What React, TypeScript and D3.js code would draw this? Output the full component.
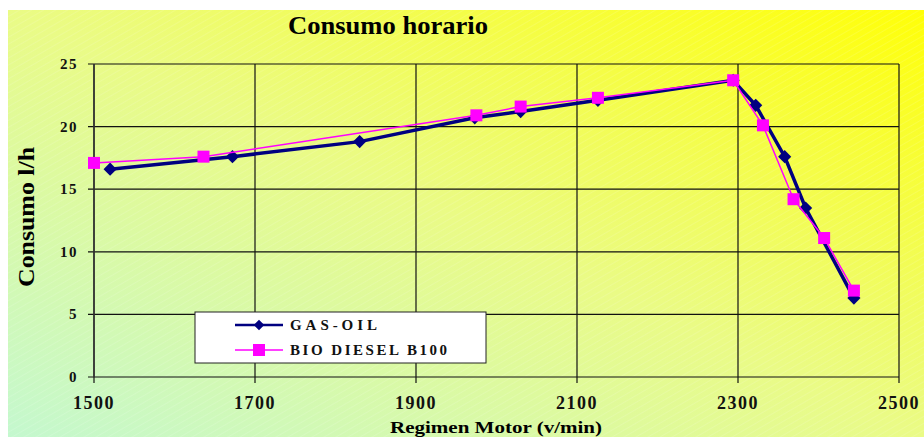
import React from "react";
import * as d3 from "d3";

// engine speed (v/min) and hourly consumption (l/h)
const gasOilRpm = [1520, 1672, 1830, 1973, 2030, 2126, 2294, 2322, 2358, 2384, 2444];
const gasOilLh = [16.6, 17.6, 18.8, 20.7, 21.2, 22.1, 23.7, 21.7, 17.6, 13.5, 6.3];
const bioRpm = [1500, 1636, 1975, 2030, 2126, 2294, 2331, 2369, 2407, 2444];
const bioLh = [17.1, 17.6, 20.9, 21.6, 22.3, 23.7, 20.1, 14.2, 11.1, 6.9];
const xTicks = [1500, 1700, 1900, 2100, 2300, 2500];
const yTicks = [0, 5, 10, 15, 20, 25];
const seriesNames = ["GAS-OIL", "BIO DIESEL B100"];

const W = 924;
const H = 437;
const font = "'Liberation Serif', 'Times New Roman', serif";

export default function App() {
  const x = d3.scaleLinear().domain([1500, 2500]).range([94, 899]);
  const y = d3.scaleLinear().domain([0, 25]).range([377, 64]);

  const line = d3
    .line<[number, number]>()
    .x((d) => x(d[0]))
    .y((d) => y(d[1]));

  const gas: [number, number][] = gasOilRpm.map((r, i) => [r, gasOilLh[i]]);
  const bio: [number, number][] = bioRpm.map((r, i) => [r, bioLh[i]]);

  const diamond = d3.symbol().type(d3.symbolDiamond2).size(110)();

  return (
    <svg
      width={W}
      height={H}
      style={{ position: "absolute", left: 0, top: 0 }}
    >
      <defs>
        <linearGradient id="bg" x1="0" y1="1" x2="1" y2="0">
          <stop offset="0" stopColor="#c4f8cf" />
          <stop offset="0.5" stopColor="#eafb86" />
          <stop offset="1" stopColor="#ffff08" />
        </linearGradient>
        <pattern id="hatch" width="6" height="6" patternUnits="userSpaceOnUse" patternTransform="rotate(-30)">
          <line x1="0" y1="0" x2="6" y2="0" stroke="#ffffff" strokeOpacity="0.25" strokeWidth="1" />
        </pattern>
      </defs>
      <rect x={0} y={0} width={W} height={H} fill="#fff" />
      <rect x={8} y={10} width={W - 8} height={H - 10} fill="url(#bg)" />
      <rect x={8} y={10} width={W - 8} height={H - 10} fill="url(#hatch)" />

      {/* title */}
      <text
        x={388}
        y={34}
        textAnchor="middle"
        fontFamily={font}
        fontWeight="bold"
        fontSize={25}
        textLength={200}
        lengthAdjust="spacingAndGlyphs"
      >
        Consumo horario
      </text>

      {/* grid */}
      {yTicks.map((t) => (
        <line key={"gy" + t} x1={x(1500) - 6} x2={x(2500)} y1={y(t)} y2={y(t)} stroke="#111" strokeWidth={1.2} />
      ))}
      {xTicks.map((t) => (
        <line key={"gx" + t} x1={x(t)} x2={x(t)} y1={y(25)} y2={y(0) + 6} stroke="#111" strokeWidth={1.2} />
      ))}
      <line x1={x(1500)} x2={x(1500)} y1={y(25)} y2={y(0)} stroke="#333" strokeWidth={1.5} />

      {/* y tick labels */}
      {yTicks.map((t) => (
        <text
          key={"ty" + t}
          x={78}
          y={y(t) + 5}
          textAnchor="end"
          fontFamily={font}
          fontWeight="bold"
          fontSize={15}
          letterSpacing={1.5}
          fill="#111"
        >
          {t}
        </text>
      ))}
      {/* x tick labels */}
      {xTicks.map((t) => (
        <text
          key={"tx" + t}
          x={x(t)}
          y={409}
          textAnchor="middle"
          fontFamily={font}
          fontWeight="bold"
          fontSize={18}
          letterSpacing={1.5}
          fill="#111"
        >
          {t}
        </text>
      ))}

      {/* axis titles */}
      <text
        x={496}
        y={433}
        textAnchor="middle"
        fontFamily={font}
        fontWeight="bold"
        fontSize={16}
        textLength={212}
        lengthAdjust="spacingAndGlyphs"
      >
        Regimen Motor (v/min)
      </text>
      <text
        transform="translate(34,217) rotate(-90)"
        textAnchor="middle"
        fontFamily={font}
        fontWeight="bold"
        fontSize={23}
        textLength={140}
        lengthAdjust="spacingAndGlyphs"
      >
        Consumo l/h
      </text>

      {/* series */}
      <path d={line(gas) ?? ""} fill="none" stroke="#000080" strokeWidth={3.5} />
      {gas.map((d, i) => (
        <path key={"g" + i} d={diamond ?? ""} transform={`translate(${x(d[0])},${y(d[1])})`} fill="#000080" />
      ))}
      <path d={line(bio) ?? ""} fill="none" stroke="#ff00ff" strokeWidth={1.5} />
      {bio.map((d, i) => (
        <rect key={"b" + i} x={x(d[0]) - 6} y={y(d[1]) - 6} width={12} height={12} fill="#ff00ff" />
      ))}

      {/* legend */}
      <rect x={195} y={312} width={291} height={51} fill="#fff" stroke="#222" strokeWidth={1} />
      <line x1={235} x2={283} y1={325} y2={325} stroke="#000080" strokeWidth={2.5} />
      <path d={diamond ?? ""} transform="translate(259,325) scale(0.8)" fill="#000080" />
      <line x1={235} x2={283} y1={350} y2={350} stroke="#ff00ff" strokeWidth={1.5} />
      <rect x={253} y={344} width={12} height={12} fill="#ff00ff" />
      {seriesNames.map((n, i) => (
        <text
          key={n}
          x={290}
          y={330 + i * 25}
          fontFamily={font}
          fontWeight="bold"
          fontSize={15}
          textLength={i === 0 ? 87 : 157}
          lengthAdjust="spacing"
          fill="#111"
        >
          {n}
        </text>
      ))}
    </svg>
  );
}
